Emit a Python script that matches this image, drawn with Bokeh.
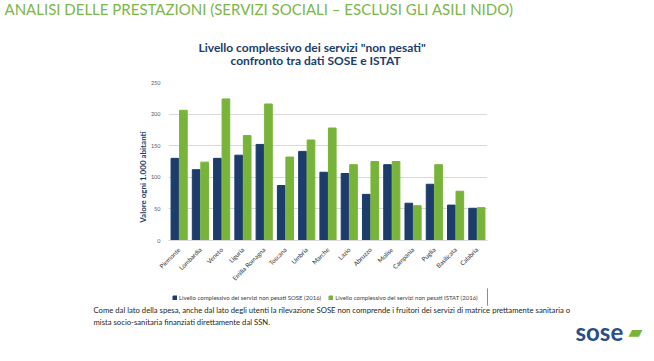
import math
from bokeh.plotting import figure
from bokeh.layouts import column
from bokeh.models import (FactorRange, Range1d, Legend, LegendItem, Title,
                          ColumnDataSource, FixedTicker)
from bokeh.transform import dodge
from bokeh.embed import file_html
from bokeh.resources import INLINE

regions = ["Piemonte", "Lombardia", "Veneto", "Liguria", "Emilia Romagna", "Toscana",
           "Umbria", "Marche", "Lazio", "Abruzzo", "Molise", "Campania", "Puglia",
           "Basilicata", "Calabria"]
sose = [130, 112, 130, 135, 152, 87, 141, 108, 106, 73, 120, 59, 89, 56, 51]
istat = [206, 124, 224, 166, 216, 132, 159, 178, 120, 125, 125, 55, 120, 78, 52]
y_ticks = [0, 50, 100, 150, 200, 250]

series_names = ["Livello complessivo dei servizi non pesati SOSE (2016)",
                "Livello complessivo dei servizi non pesati ISTAT (2016)"]
header = "ANALISI DELLE PRESTAZIONI (SERVIZI SOCIALI \u2013 ESCLUSI GLI ASILI NIDO)"
title1 = "Livello complessivo dei servizi \"non pesati\""
title2 = "confronto tra dati SOSE e ISTAT"
ylabel = "Valore ogni 1.000 abitanti"
foot1 = ("Come dal lato della spesa, anche dal lato degli utenti la rilevazione SOSE non comprende "
         "i fruitori dei servizi di matrice prettamente sanitaria o")
foot2 = "mista socio-sanitaria finanziati direttamente dal SSN."
logo = "sose"
logo_mark = "\u25b0"

NAVY = "#1c3d6b"
GREEN = "#79b43a"
FONT = "Lato"
W = 654
FL, FR, FT, FB = 168, 487, 82, 240
MAIN_H = 288
BOT_H = 361 - MAIN_H


def title(fig, txt, side, size, color, style="normal", offset=0, standoff=0,
          valign="bottom", font=FONT):
    fig.add_layout(Title(text=txt, text_font=font, text_font_size=size, text_color=color,
                         text_font_style=style, align="left", offset=offset,
                         standoff=standoff, vertical_align=valign), side)


def spacer(fig, side, standoff):
    fig.add_layout(Title(text=" ", text_font_size="1px", standoff=standoff), side)


# ---------------- main chart
src = ColumnDataSource(dict(region=regions, sose=sose, istat=istat))
p = figure(width=W, height=MAIN_H, x_range=FactorRange(*regions), y_range=(0, 250),
           output_backend="svg", toolbar_location=None,
           min_border_left=FL, min_border_right=W - FR,
           min_border_top=FT, min_border_bottom=MAIN_H - FB)
p.outline_line_color = None
p.vbar(x=dodge("region", -0.2, range=p.x_range), top="sose", width=0.36,
       source=src, color=NAVY)
p.vbar(x=dodge("region", 0.2, range=p.x_range), top="istat", width=0.36,
       source=src, color=GREEN)
p.xgrid.grid_line_color = None
p.ygrid.grid_line_color = "#d9d9d9"
p.yaxis.ticker = FixedTicker(ticks=y_ticks)
p.yaxis.axis_line_color = None
p.yaxis.major_tick_line_color = None
p.yaxis.minor_tick_line_color = None
p.yaxis.major_label_text_font_size = "5.5px"
p.yaxis.major_label_text_color = "#595959"
p.yaxis.major_label_text_font = FONT
p.yaxis.major_label_standoff = 2
# trailing no-break spaces shift the centred label down, as in the reference
p.yaxis.axis_label = ylabel + "\u00a0" * 16
p.yaxis.axis_label_text_font = FONT
p.yaxis.axis_label_text_font_size = "8px"
p.yaxis.axis_label_text_font_style = "bold"
p.yaxis.axis_label_text_color = NAVY
p.yaxis.axis_label_standoff = 0
p.xaxis.axis_line_color = "#d9d9d9"
p.xaxis.major_tick_line_color = None
p.xaxis.minor_tick_line_color = None
p.xaxis.major_label_orientation = math.pi / 4
p.xaxis.major_label_text_font_size = "6.3px"
p.xaxis.major_label_text_color = "#333333"
p.xaxis.major_label_text_font = FONT
p.xaxis.major_label_standoff = 2

# above panels: first added is nearest the frame
spacer(p, "above", 12)
title(p, title2, "above", "12px", NAVY, "bold", offset=230 - FL, standoff=0)
title(p, title1, "above", "12px", NAVY, "bold", offset=198 - FL, standoff=-8)
spacer(p, "above", 31)
title(p, header, "above", "15px", "#7ab648", "normal", offset=4 - FL, standoff=-20)

# ---------------- bottom block: legend, note, logo
bot = figure(width=W, height=BOT_H, x_range=Range1d(0, 1), y_range=Range1d(0, 1),
             output_backend="svg", toolbar_location=None,
             min_border_left=FL, min_border_right=W - FR,
             min_border_top=0, min_border_bottom=56)
bot.axis.visible = False
bot.grid.visible = False
bot.outline_line_color = None
proxy = ColumnDataSource(dict(x=[5], top=[5]))  # legend swatch proxies, outside view
ra = bot.vbar(x="x", top="top", width=1, source=proxy, color=NAVY)
rb = bot.vbar(x="x", top="top", width=1, source=proxy, color=GREEN)
legend = Legend(items=[LegendItem(label=series_names[0], renderers=[ra]),
                       LegendItem(label=series_names[1], renderers=[rb])],
                orientation="horizontal", location=(4, 4),
                label_text_font_size="6px", label_text_font=FONT,
                label_text_color="#404040", glyph_width=5, glyph_height=5,
                label_standoff=2, spacing=7, padding=0, margin=0,
                border_line_color=None, background_fill_alpha=0, label_height=7)
bot.add_layout(legend, "center")
title(bot, foot1, "below", "7.7px", "#262626", offset=93 - FL, standoff=-2, valign="top")
title(bot, foot2, "below", "7.7px", "#262626", offset=93 - FL, standoff=2, valign="top")
title(bot, logo, "below", "24px", "#2a4f86", "bold", offset=575 - FL, standoff=-26,
      valign="top")
title(bot, logo_mark, "below", "18px", GREEN, "normal", offset=628 - FL, standoff=-27,
      valign="top", font="DejaVu Sans")

open("out.html", "w").write(file_html(column(p, bot, spacing=0), INLINE))
